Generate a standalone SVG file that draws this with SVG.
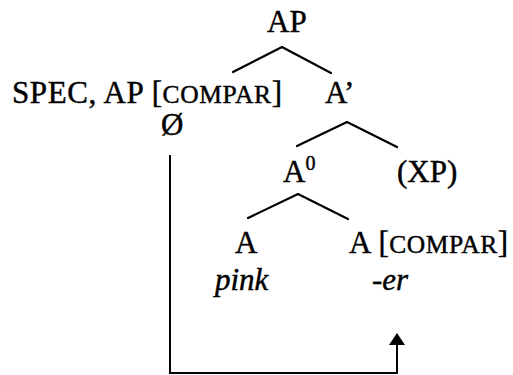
<svg xmlns="http://www.w3.org/2000/svg" width="513" height="375" viewBox="0 0 513 375">
<style>
text{font-family:"Liberation Serif","Times New Roman",serif;font-size:31px;fill:#000;stroke:#000;stroke-width:0.45}
.sc{font-size:25.5px}
.it{font-style:italic}
.sup{font-size:20px}
.edge{stroke:#000;stroke-width:2.2;fill:none;stroke-linecap:round;stroke-linejoin:round}
.mv{stroke:#000;stroke-width:2;fill:none}
</style>
<g id="connectors">
<polyline class="edge" points="233,72 282,47 331,73"/>
<polyline class="edge" points="297,146 347,122 397,147"/>
<polyline class="edge" points="248,218 298,194 348,219"/>
<polyline class="mv" points="170,155 170,373 397,373 397,334"/>
<polygon points="397,333 389,345 405,345" fill="#000"/>
</g>
<g id="AP"><text x="267" y="32">AP</text></g>
<g id="spec"><text x="12" y="103" textLength="270" lengthAdjust="spacing">SPEC, AP [<tspan class="sc">COMPAR</tspan>]</text></g>
<g id="null"><text x="161" y="135">Ø</text></g>
<g id="Abar"><text x="325" y="103">A’</text></g>
<g id="A0"><text x="283" y="182">A<tspan class="sup" dy="-12">0</tspan></text></g>
<g id="XP"><text x="397" y="182">(XP)</text></g>
<g id="A"><text x="235" y="253">A</text><text class="it" x="215" y="290">pink</text></g>
<g id="Acompar"><text x="349" y="253" textLength="159" lengthAdjust="spacing">A [<tspan class="sc">COMPAR</tspan>]</text><text class="it" x="372" y="290">-er</text></g>
</svg>
